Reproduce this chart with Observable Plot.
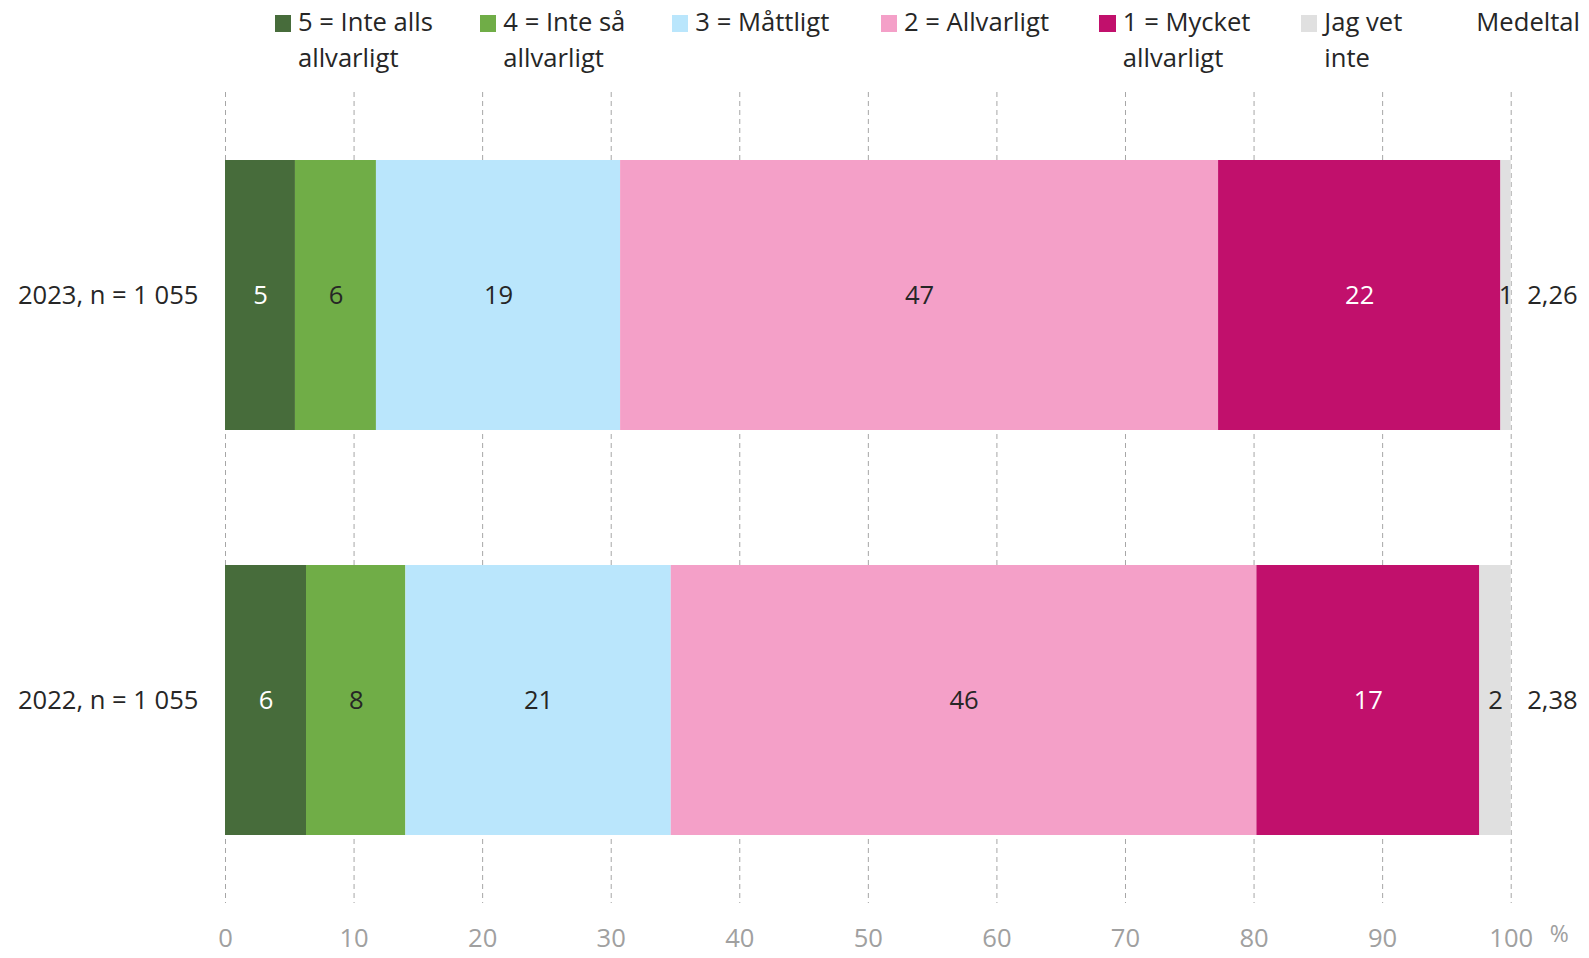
<!DOCTYPE html>
<html>
<head>
<meta charset="utf-8">
<script src="https://cdn.jsdelivr.net/npm/d3@7"></script>
<script src="https://cdn.jsdelivr.net/npm/@observablehq/plot@0.6"></script>
<style>
  html, body { margin: 0; padding: 0; background: #fff; overflow: hidden; }
  body { font-family: "Open Sans", sans-serif; color: #262626; width: 1589px; height: 958px; }
  #legend {
    height: 88px; box-sizing: border-box; padding-top: 4px; padding-left: 274.6px;
    display: grid; grid-template-columns: 205.4px 192px 208.6px 218.9px 201.5px 152px 140px;
    font-size: 25.6px; line-height: 35.5px;
  }
  .item { display: flex; align-items: flex-start; }
  .sw { width: 16.2px; height: 16.2px; margin-top: 11.4px; margin-right: 7.2px; flex: none; }
  .txt { white-space: nowrap; }
</style>
</head>
<body>
<div id="legend"></div>
<div id="chart"></div>
<script>
// ---- data ----
const years = ["2023, n = 1 055", "2022, n = 1 055"];
const categories = ["5 = Inte alls allvarligt", "4 = Inte så allvarligt", "3 = Måttligt", "2 = Allvarligt", "1 = Mycket allvarligt", "Jag vet inte"];
const legendLines = [["5 = Inte alls", "allvarligt"], ["4 = Inte så", "allvarligt"], ["3 = Måttligt"], ["2 = Allvarligt"], ["1 = Mycket", "allvarligt"], ["Jag vet", "inte"]];
const colors = ["#476c3b", "#70ad47", "#bae6fc", "#f4a0c8", "#c1106c", "#e0e0e0"];
const values2023 = [5.44, 6.30, 18.99, 46.51, 21.96, 0.80];
const values2022 = [6.30, 7.73, 20.64, 45.55, 17.34, 2.44];
const labels2023 = ["5", "6", "19", "47", "22", "1"];
const labels2022 = ["6", "8", "21", "46", "17", "2"];
const means = ["2,26", "2,38"];
const meanTitle = "Medeltal";
const tickValues = [0, 10, 20, 30, 40, 50, 60, 70, 80, 90, 100];
const whiteLabelCats = ["5 = Inte alls allvarligt", "1 = Mycket allvarligt"];

// ---- table ----
const rows = [];
[[years[0], values2023, labels2023], [years[1], values2022, labels2022]].forEach(([year, vals, labs]) => {
  categories.forEach((cat, i) => rows.push({year, cat, value: vals[i], label: labs[i]}));
});
const meanRows = years.map((year, i) => ({year, mean: means[i]}));

// ---- legend ----
const legend = document.getElementById("legend");
categories.forEach((cat, i) => {
  const it = document.createElement("div"); it.className = "item";
  const sw = document.createElement("div"); sw.className = "sw"; sw.style.background = colors[i];
  const tx = document.createElement("div"); tx.className = "txt"; tx.innerHTML = legendLines[i].join("<br>");
  it.appendChild(sw); it.appendChild(tx); legend.appendChild(it);
});
{
  const it = document.createElement("div"); it.className = "item";
  const sw = document.createElement("div"); sw.className = "sw"; sw.style.visibility = "hidden";
  const tx = document.createElement("div"); tx.className = "txt"; tx.textContent = meanTitle;
  it.appendChild(sw); it.appendChild(tx); legend.appendChild(it);
}

// ---- chart ----
const isWhite = d => whiteLabelCats.includes(d.cat);
const chart = Plot.plot({
  width: 1589,
  height: 870,
  marginTop: 4,
  marginBottom: 55,
  marginLeft: 225,
  marginRight: 78.3,
  style: {fontFamily: "'Open Sans', sans-serif", fontSize: "25.6px", color: "#262626", background: "#fff"},
  x: {domain: [0, 100]},
  y: {domain: years, paddingInner: 1/3, paddingOuter: 1/6},
  color: {domain: categories, range: colors},
  marks: [
    Plot.ruleX(tickValues, {stroke: "#a6a6a6", strokeWidth: 1, strokeDasharray: "5,4"}),
    Plot.barX(rows, {x: "value", y: "year", fill: "cat", z: "cat"}),
    Plot.text(rows, Plot.stackX({x: "value", y: "year", z: "cat", text: d => isWhite(d) ? d.label : "", fill: "#ffffff"})),
    Plot.text(rows, Plot.stackX({x: "value", y: "year", z: "cat", text: d => isWhite(d) ? "" : d.label, fill: "#262626"})),
    Plot.text(meanRows, {y: "year", text: "mean", frameAnchor: "right", dx: 16, textAnchor: "start", fill: "#262626"}),
    Plot.axisY({tickSize: 0, tickPadding: 27, label: null, color: "#262626"}),
    Plot.axisX({ticks: tickValues, tickSize: 0, tickPadding: 25, label: null, color: "#a0a0a0"}),
    Plot.text(["%"], {frameAnchor: "bottom-right", textAnchor: "middle", dx: 48, dy: 38, fill: "#a0a0a0", fontSize: 23})
  ]
});
document.getElementById("chart").appendChild(chart);
</script>
</body>
</html>
